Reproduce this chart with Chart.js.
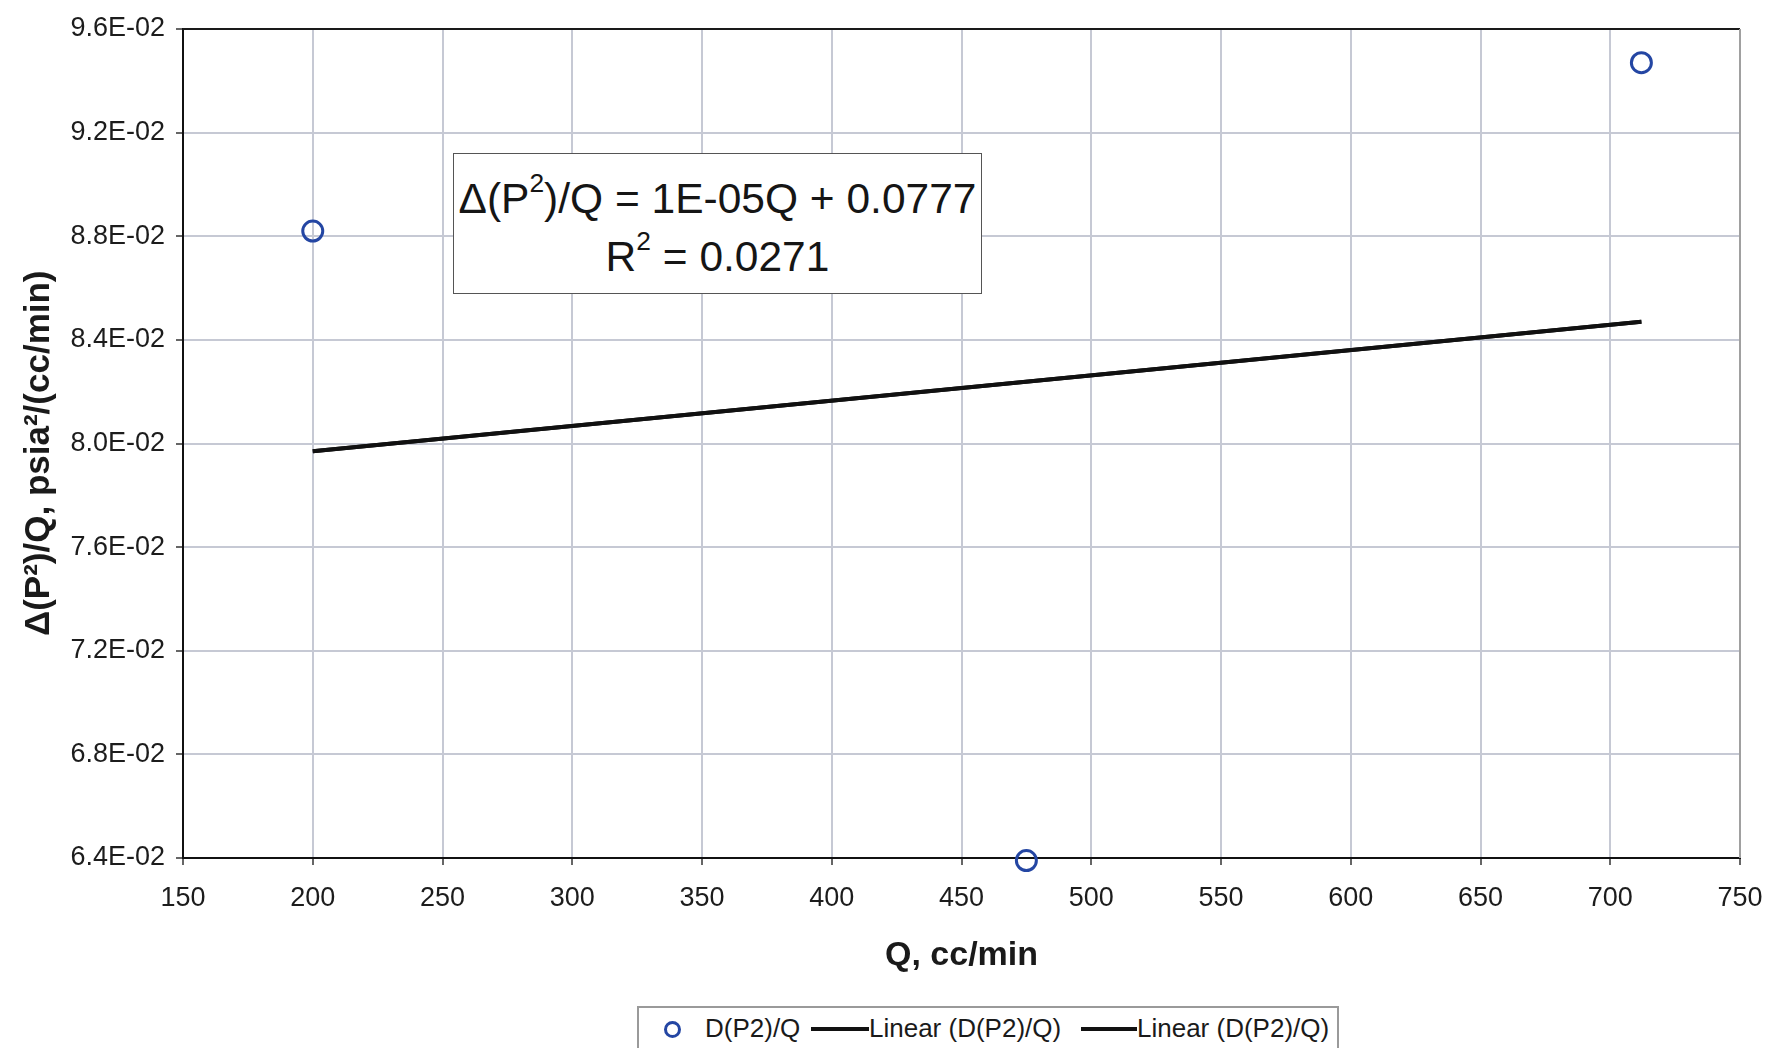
<!DOCTYPE html>
<html>
<head>
<meta charset="utf-8">
<script src="https://cdn.jsdelivr.net/npm/chart.js@4.4.1/dist/chart.umd.min.js"></script>
<style>
html,body{margin:0;padding:0;background:#fff;}
#wrap{position:relative;width:1767px;height:1048px;overflow:hidden;background:#fff;}
#c{position:absolute;left:0;top:0;}
#eq{position:absolute;left:453px;top:153px;width:529px;height:141px;box-sizing:border-box;border:1.5px solid #555;background:#fff;
  font-family:"Liberation Sans",Arial,sans-serif;font-size:42.5px;color:#151515;text-align:center;line-height:58px;padding-top:16px;}
#eq sup{font-size:0.62em;line-height:0;vertical-align:0.78em;}
#legend{position:absolute;left:637px;top:1006px;width:702px;height:50px;box-sizing:border-box;border:2px solid #9a9a9a;background:#fff;
  font-family:"Liberation Sans",Arial,sans-serif;font-size:26px;color:#1a1a1a;}
#legend .it{position:absolute;top:6px;white-space:nowrap;line-height:28px;}
#legend .dot{position:absolute;width:11px;height:11px;border:3px solid #2446a3;border-radius:50%;}
#legend .ln{position:absolute;height:4px;background:#111;}
</style>
</head>
<body>
<div id="wrap">
<canvas id="c" width="1767" height="1048"></canvas>
<div id="eq">&Delta;(P<sup>2</sup>)/Q = 1E-05Q + 0.0777<br>R<sup>2</sup> = 0.0271</div>
<div id="legend">
  <span class="dot" style="left:25px;top:13px;"></span>
  <span class="it" style="left:66px;">D(P2)/Q</span>
  <span class="ln" style="left:172px;top:19px;width:58px;"></span>
  <span class="it" style="left:230px;">Linear (D(P2)/Q)</span>
  <span class="ln" style="left:442px;top:19px;width:56px;"></span>
  <span class="it" style="left:498px;">Linear (D(P2)/Q)</span>
</div>
</div>
<script>
// ---- data ----
const qValues = [200, 475, 712];
const dp2qValues = [0.0882, 0.0639, 0.0947];
const trendQ = [200, 712];
const trendValues = [0.0797, 0.0847];
const xTickValues = [150, 200, 250, 300, 350, 400, 450, 500, 550, 600, 650, 700, 750];
const yTickValues = [0.064, 0.068, 0.072, 0.076, 0.080, 0.084, 0.088, 0.092, 0.096];
const yTickLabels = ['6.4E-02', '6.8E-02', '7.2E-02', '7.6E-02', '8.0E-02', '8.4E-02', '8.8E-02', '9.2E-02', '9.6E-02'];
const seriesLabels = ['D(P2)/Q', 'Linear (D(P2)/Q)', 'Linear (D(P2)/Q)'];

const FONT = '"Liberation Sans", Arial, sans-serif';

const frame = {
  id: 'frame',
  beforeDatasetsDraw(chart) {
    const {ctx, chartArea: a} = chart;
    ctx.save();
    ctx.strokeStyle = '#1a1a1a';
    ctx.lineWidth = 2;
    ctx.beginPath(); ctx.moveTo(a.left, a.top); ctx.lineTo(a.right, a.top); ctx.stroke();
    ctx.strokeStyle = '#a0a0a0';
    ctx.beginPath(); ctx.moveTo(a.right, a.top); ctx.lineTo(a.right, a.bottom); ctx.stroke();
    ctx.restore();
  }
};

const trendData = trendQ.map((q, i) => ({x: q, y: trendValues[i]}));

new Chart(document.getElementById('c'), {
  type: 'scatter',
  data: {
    datasets: [
      {
        label: seriesLabels[0],
        data: qValues.map((q, i) => ({x: q, y: dp2qValues[i]})),
        pointStyle: 'circle',
        pointRadius: 10,
        pointBorderWidth: 3,
        pointBorderColor: '#2446a3',
        pointBackgroundColor: 'rgba(255,255,255,0)',
        showLine: false,
        clip: false,
        order: 0
      },
      {
        label: seriesLabels[1],
        data: trendData,
        showLine: true,
        borderColor: '#111',
        borderWidth: 4,
        pointRadius: 0,
        fill: false,
        order: 1
      },
      {
        label: seriesLabels[2],
        data: trendData,
        showLine: true,
        borderColor: '#111',
        borderWidth: 4,
        pointRadius: 0,
        fill: false,
        order: 2
      }
    ]
  },
  options: {
    responsive: false,
    animation: false,
    devicePixelRatio: 1,
    layout: {padding: {top: 29, right: 27, bottom: 0, left: 0}},
    plugins: {legend: {display: false}, tooltip: {enabled: false}},
    scales: {
      x: {
        type: 'linear',
        min: 150, max: 750,
        afterBuildTicks: s => { s.ticks = xTickValues.map(v => ({value: v})); },
        afterFit: s => { s.height = 190; s.paddingLeft = 0; s.paddingRight = 0; },
        ticks: {color: '#1c1c1c', font: {family: FONT, size: 27}, padding: 17, maxRotation: 0, autoSkip: false},
        grid: {color: '#c6c9d4', lineWidth: 2, tickLength: 7, tickColor: '#333', tickWidth: 1.5},
        border: {color: '#111', width: 2},
        title: {display: true, text: 'Q, cc/min', color: '#1a1a1a', font: {family: FONT, size: 34, weight: 'bold'}, padding: {top: 0, bottom: 72}}
      },
      y: {
        type: 'linear',
        min: 0.064, max: 0.096,
        afterBuildTicks: s => { s.ticks = yTickValues.map(v => ({value: v})); },
        afterFit: s => { s.width = 183; s.paddingTop = 0; s.paddingBottom = 0; },
        ticks: {color: '#1c1c1c', font: {family: FONT, size: 27}, padding: 11, autoSkip: false,
          callback: (v, i) => yTickLabels[i]},
        grid: {color: '#c6c9d4', lineWidth: 2, tickLength: 7, tickColor: '#333', tickWidth: 1.5},
        border: {color: '#111', width: 2},
        title: {display: true, text: 'Δ(P²)/Q, psia²/(cc/min)  ', color: '#1a1a1a', font: {family: FONT, size: 35, weight: 'bold'}, padding: {top: 18, bottom: 0}}
      }
    }
  },
  plugins: [frame]
});
</script>
</body>
</html>
